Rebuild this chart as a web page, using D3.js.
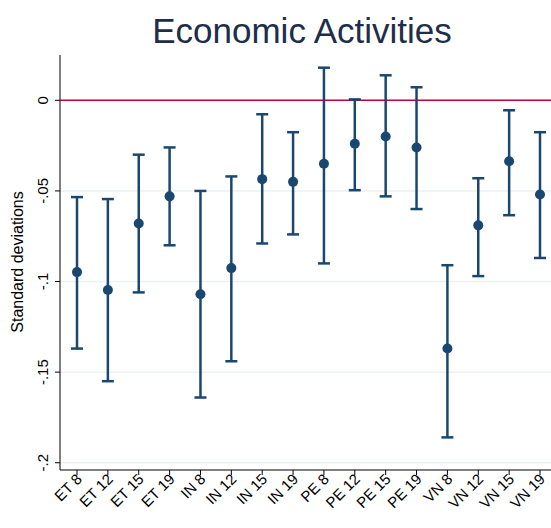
<!DOCTYPE html>
<html><head><meta charset="utf-8">
<script src="https://cdn.jsdelivr.net/npm/d3@7"></script>
<style>body{margin:0;background:#fff}</style>
</head><body>
<svg id="chart" width="551" height="528"></svg>
<script>
var labels = ['ET 8','ET 12','ET 15','ET 19','IN 8','IN 12','IN 15','IN 19','PE 8','PE 12','PE 15','PE 19','VN 8','VN 12','VN 15','VN 19'];
var est = [-0.0948,-0.1047,-0.068,-0.053,-0.107,-0.0926,-0.0435,-0.045,-0.035,-0.024,-0.020,-0.026,-0.137,-0.069,-0.0336,-0.052];
var hi = [-0.0534,-0.0545,-0.030,-0.026,-0.050,-0.042,-0.0077,-0.0176,0.018,0.0005,0.0138,0.0072,-0.091,-0.043,-0.0055,-0.0176];
var lo = [-0.137,-0.155,-0.106,-0.080,-0.164,-0.144,-0.079,-0.074,-0.090,-0.0496,-0.053,-0.060,-0.186,-0.097,-0.0634,-0.087];
var yTicks = [0,-0.05,-0.1,-0.15,-0.2];
var tickText = ['0','-.05','-.1','-.15','-.2'];

var svg = d3.select('#chart');
var col = '#1a476f';
var x = d3.scalePoint().domain(labels).range([77, 540]);
var y = d3.scaleLinear().domain([0.025, -0.204]).range([55, 470]);

// grid
svg.selectAll('.grid').data(yTicks).enter().append('line')
  .attr('x1', 60).attr('x2', 551)
  .attr('y1', function(d){return y(d)}).attr('y2', function(d){return y(d)})
  .attr('stroke', '#eaf2f3').attr('stroke-width', 1.5);

// axes
svg.append('line').attr('x1',60).attr('x2',60).attr('y1',55).attr('y2',470).attr('stroke','#000');
svg.append('line').attr('x1',60).attr('x2',551).attr('y1',470).attr('y2',470).attr('stroke','#000');
svg.selectAll('.yt').data(yTicks).enter().append('line')
  .attr('x1',55).attr('x2',60).attr('y1',function(d){return y(d)}).attr('y2',function(d){return y(d)}).attr('stroke','#000');
svg.selectAll('.ytl').data(yTicks).enter().append('text')
  .attr('transform',function(d){return 'translate(48,'+y(d)+') rotate(-90)'})
  .attr('text-anchor','middle').attr('font-family','Liberation Sans, Arial').attr('font-size',15)
  .text(function(d,i){return tickText[i]});
svg.selectAll('.xt').data(labels).enter().append('line')
  .attr('x1',function(d){return x(d)}).attr('x2',function(d){return x(d)})
  .attr('y1',470).attr('y2',475).attr('stroke','#000');
svg.selectAll('.xtl').data(labels).enter().append('text')
  .attr('transform',function(d){return 'translate('+(x(d)+6)+',480) rotate(-45)'})
  .attr('text-anchor','end').attr('font-family','Liberation Sans, Arial').attr('font-size',15)
  .text(function(d){return d});

// zero line
svg.append('line').attr('x1',60).attr('x2',551).attr('y1',y(0)).attr('y2',y(0)).attr('stroke','#c10534').attr('stroke-width',1.5);

// error bars
var g = svg.selectAll('.bar').data(labels).enter().append('g');
g.append('line').attr('x1',function(d){return x(d)}).attr('x2',function(d){return x(d)})
  .attr('y1',function(d,i){return y(hi[i])}).attr('y2',function(d,i){return y(lo[i])})
  .attr('stroke',col).attr('stroke-width',2.5);
g.append('line').attr('x1',function(d){return x(d)-6}).attr('x2',function(d){return x(d)+6})
  .attr('y1',function(d,i){return y(hi[i])}).attr('y2',function(d,i){return y(hi[i])})
  .attr('stroke',col).attr('stroke-width',2.5);
g.append('line').attr('x1',function(d){return x(d)-6}).attr('x2',function(d){return x(d)+6})
  .attr('y1',function(d,i){return y(lo[i])}).attr('y2',function(d,i){return y(lo[i])})
  .attr('stroke',col).attr('stroke-width',2.5);
g.append('circle').attr('cx',function(d){return x(d)}).attr('cy',function(d,i){return y(est[i])})
  .attr('r',5).attr('fill',col);

svg.append('text').attr('x',302).attr('y',43).attr('text-anchor','middle')
  .attr('font-family','Liberation Sans, Arial').attr('font-size',35).attr('fill','#1e2d4a')
  .text('Economic Activities');
svg.append('text').attr('transform','translate(23,262) rotate(-90)').attr('text-anchor','middle')
  .attr('font-family','Liberation Sans, Arial').attr('font-size',16).text('Standard deviations');
</script>
</body></html>
